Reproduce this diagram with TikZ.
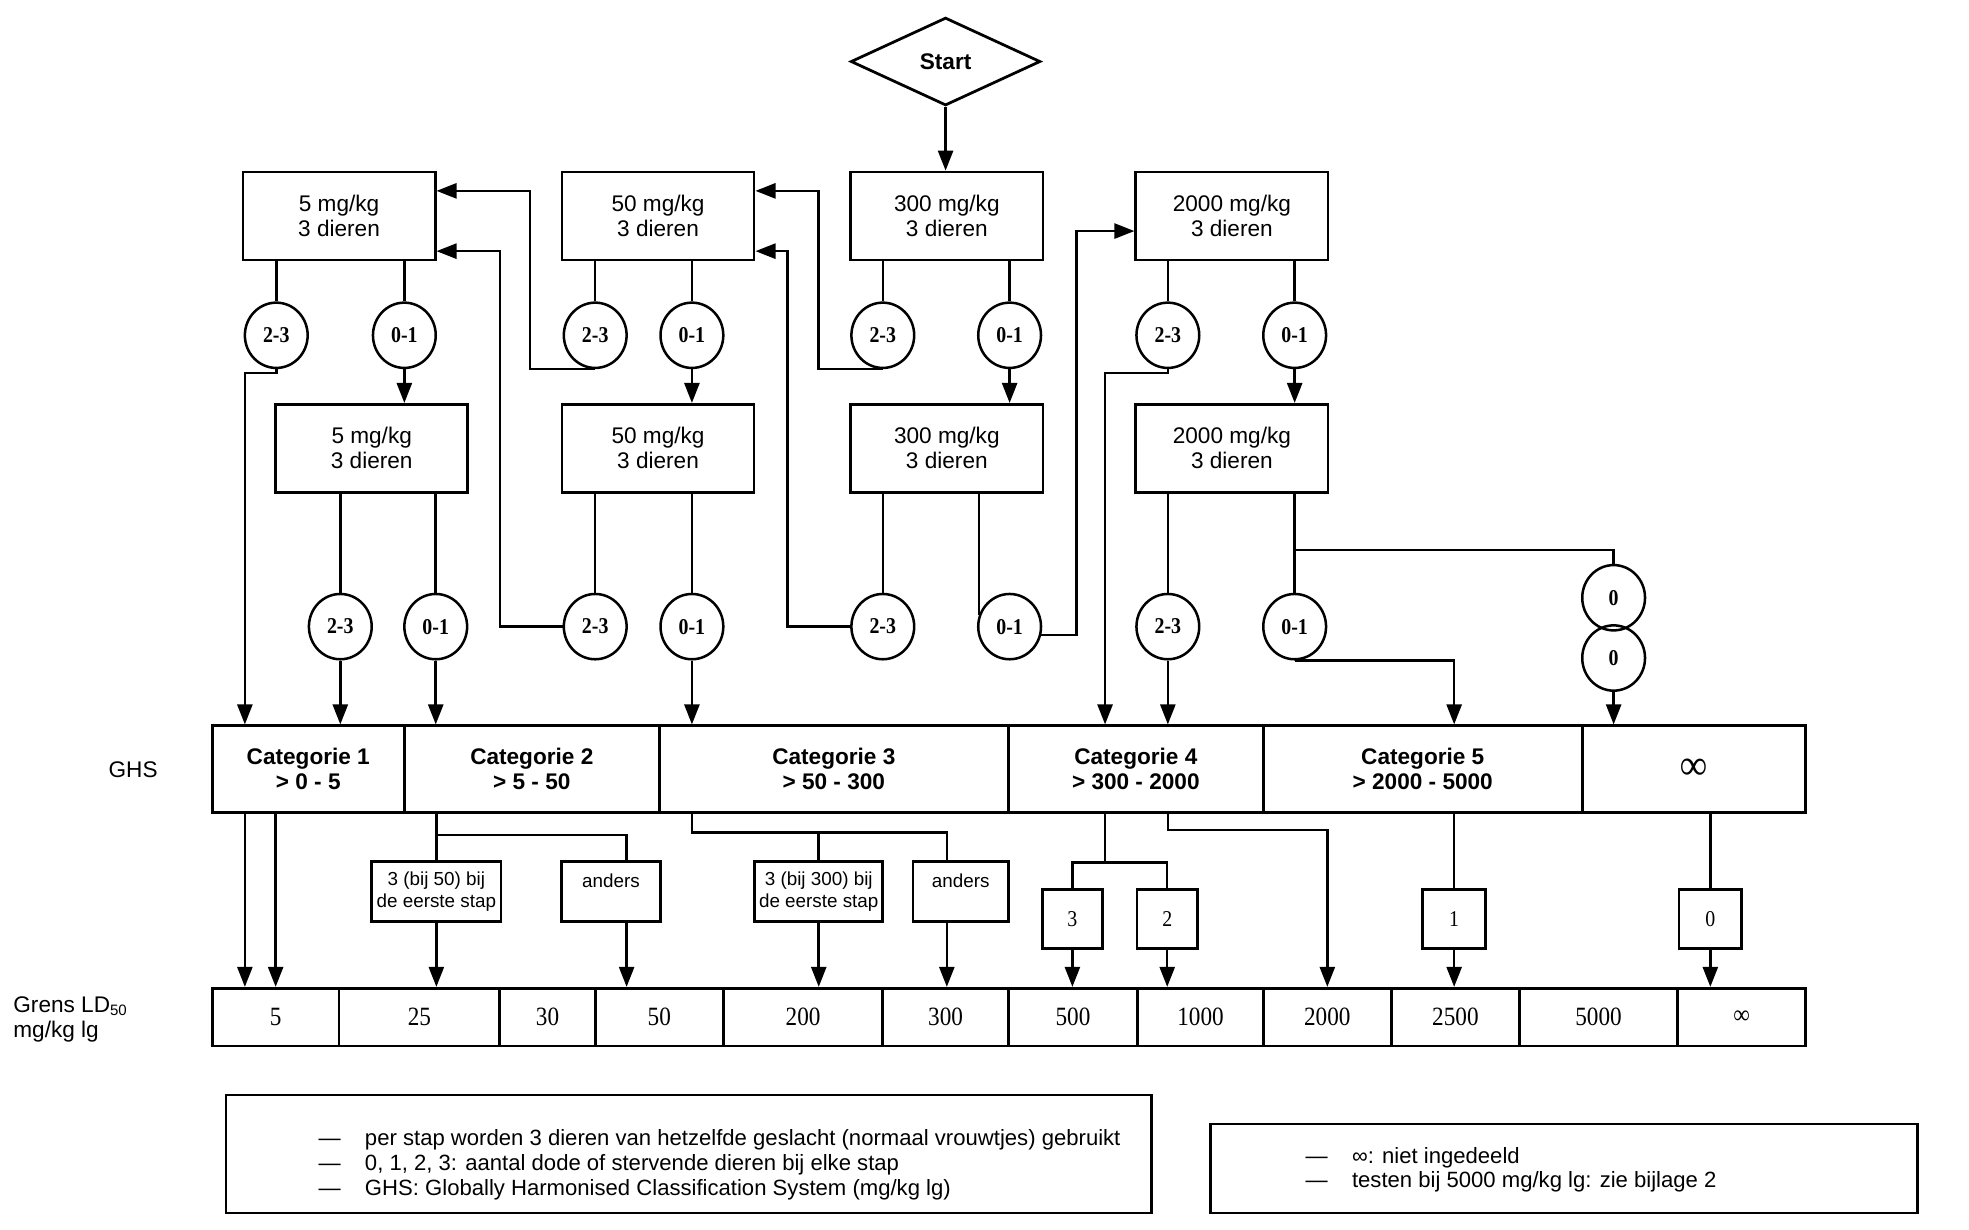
\documentclass[tikz,border=0pt]{standalone}
\usepackage{fontspec}
\setmainfont{Liberation Sans}
\newfontfamily\numfont{Liberation Serif}[FakeStretch=0.88]
\usetikzlibrary{shapes.geometric,arrows.meta}
\newcommand{\legdash}{\makebox[18.5pt][l]{—}}

\begin{document}
\begin{tikzpicture}[
  x=0.5pt,
  y=-0.5pt,
  line width=1pt,
  every node/.style={font=\fontsize{9}{10}\selectfont},
  arr/.style={-{Triangle[length=8pt,width=6pt]}},
  startnode/.style={draw, diamond, line width=1.1pt, minimum width=75.5pt, minimum height=35pt, inner sep=0pt, font=\bfseries\fontsize{9}{10}\selectfont},
  dosebox/.style={draw, line width=1.1pt, minimum width=76.5pt, minimum height=35pt, align=center},
  score/.style={draw, ellipse, minimum width=25pt, minimum height=26pt, inner sep=0pt, font=\numfont\bfseries\fontsize{9}{10}\selectfont},
  ghscell/.style={draw, line width=1.1pt, minimum height=34.5pt, inner sep=0pt, align=center, font=\bfseries\fontsize{9}{10}\selectfont},
  ldcell/.style={draw, line width=1.1pt, minimum height=23pt, inner sep=0pt, font=\numfont\fontsize{10.5}{11}\selectfont},
  subbox/.style={draw, line width=1.1pt, minimum height=24pt, inner sep=1pt, align=center, font=\fontsize{7.5}{9}\selectfont},
  numbox/.style={draw, line width=1.1pt, minimum width=24pt, minimum height=23.5pt, inner sep=0pt, font=\numfont\fontsize{9}{10}\selectfont}
]
  \useasboundingbox (0,0) rectangle (1568,979);

  % Start and dose boxes.
  \node[startnode] (start) at (753,49) {Start};
  \foreach \name/\x/\y/\dose in {a1/270/172/5, b1/524/172/50, c1/754/172/300, d1/981/172/2000,
                                 a2/296/357/5, b2/524/357/50, c2/754/357/300, d2/981/357/2000}
    \node[dosebox] (\name) at (\x,\y) {\dose\ mg/kg\\3 dieren};

  % Outcome circles (b = 2-3 dead, g = 0-1 dead).
  \foreach \name/\x/\y/\txt in {a1b/220/267/2-3, a1g/322/267/0-1, b1b/474/267/2-3, b1g/551/267/0-1,
                                c1b/703/267/2-3, c1g/804/267/0-1, d1b/930/267/2-3, d1g/1031/267/0-1,
                                a2b/271/499/2-3, a2g/347/499/0-1, b2b/474/499/2-3, b2g/551/499/0-1,
                                c2b/703/499/2-3, c2g/804/499/0-1, d2b/930/499/2-3, d2g/1031/499/0-1,
                                z1/1285/476/0, z2/1285/524/0}
    \node[score] (\name) at (\x,\y) {\txt};

  % GHS categories.
  \foreach \name/\l/\r/\txt in {cat1/169/322/{Categorie 1\\> 0 - 5}, cat2/322/525/{Categorie 2\\> 5 - 50},
                                cat3/525/803/{Categorie 3\\> 50 - 300}, cat4/803/1006/{Categorie 4\\> 300 - 2000},
                                cat5/1006/1260/{Categorie 5\\> 2000 - 5000},
                                catinf/1260/1438/{\numfont\fontsize{17}{17}\selectfont ∞}} {
    \pgfmathsetmacro{\w}{(\r-\l)/2}
    \node[ghscell, minimum width=\w pt] (\name) at ({(\l+\r)/2},612.5) {\txt};
  }

  % LD50 cut-off values.
  \foreach \name/\l/\r/\txt in {ld5/169/270/5, ld25/270/398/25, ld30/398/474/30, ld50/474/576/50,
                                ld200/576/703/200, ld300/703/803/300, ld500/803/906/500,
                                ld1000/906/1006/1000, ld2000/1006/1108/2000, ld2500/1108/1210/2500,
                                ld5000/1210/1336/5000, ldinf/1336/1438/∞} {
    \pgfmathsetmacro{\w}{(\r-\l)/2}
    \node[ldcell, minimum width=\w pt] (\name) at ({(\l+\r)/2},810) {\txt};
  }

  % Boxes between the rows.
  \node[subbox, minimum width=51.5pt] (r50) at (347.5,710) {3 (bij 50) bij\\de eerste stap};
  \node[subbox, minimum width=39.5pt] (a50) at (486.5,710) {anders\\~};
  \node[subbox, minimum width=51pt] (r300) at (652,710) {3 (bij 300) bij\\de eerste stap};
  \node[subbox, minimum width=38pt] (a300) at (765,710) {anders\\~};
  \node[numbox] (n3) at (854,732) {3};
  \node[numbox] (n2) at (929.5,732) {2};
  \node[numbox, minimum width=25pt] (n1) at (1158,732) {1};
  \node[numbox, minimum width=25pt] (n0) at (1362,732) {0};

  % Row labels.
  \node (ghslabel) at (106,613) {GHS};
  \node[anchor=west, align=left] (ldlabel) at (3,812) {Grens LD\textsubscript{50}\\mg/kg lg};

  % Flow between dose steps.
  \draw[arr] (start.south) -- (start.south |- c1.north);
  \foreach \b/\c in {a1/a1b, a1/a1g, b1/b1b, b1/b1g, c1/c1b, c1/c1g, d1/d1b, d1/d1g,
                     a2/a2b, a2/a2g, b2/b2b, b2/b2g, c2/c2b, d2/d2b, d2/d2g}
    \draw (\c.north |- \b.south) -- (\c.north);
  \draw (c2g.160 |- c2.south) -- (c2g.160);
  \foreach \c/\b in {a1g/a2, b1g/b2, c1g/c2, d1g/d2}
    \draw[arr] (\c.south) -- (\c.south |- \b.north);

  \draw[arr] (b1b.south) -- ++(-52,0) |- ([yshift=10pt]a1.east);
  \draw[arr] (c1b.south) -- ++(-51,0) |- ([yshift=10pt]b1.east);
  \draw[arr] (b2b.west) -- ++(-50,0) |- ([yshift=-14pt]a1.east);
  \draw[arr] (c2b.west) -- ++(-50,0) |- ([yshift=-14pt]b1.east);
  \draw[arr] (c2g.-15) -- ++(28,0) |- ([yshift=-6pt]d1.west);

  % Flow into the categories.
  \coordinate (lane1) at (195,297);
  \coordinate (lane4) at (880,297);
  \coordinate (br5) at (1031,438);
  \draw[arr] (a1b.south) -- (a1b.south |- lane1) -- (lane1) -- (lane1 |- cat1.north);
  \draw[arr] (d1b.south) -- (d1b.south |- lane4) -- (lane4) -- (lane4 |- cat4.north);
  \foreach \c/\k in {a2b/cat1, a2g/cat2, b2g/cat3, d2b/cat4}
    \draw[arr] (\c.south) -- (\c.south |- \k.north);
  \draw[arr] (d2g.south) -| (n1.north |- cat5.north);
  \draw (br5) -| (z1.north);
  \draw[arr] (z2.south) -- (z2.south |- catinf.north);

  % Categories to LD50 values.
  \coordinate (br2) at (347,665);
  \coordinate (br3) at (551,663);
  \coordinate (br4) at (880,687);
  \draw[arr] (lane1 |- cat1.south) -- (lane1 |- ld5.north);
  \draw[arr] (ld5.north |- cat1.south) -- (ld5.north);

  \draw (r50.north |- cat2.south) -- (r50.north);
  \draw (r50.north |- br2) -| ([xshift=6.25pt]a50.north);
  \draw[arr] (r50.south) -- (r50.south |- ld25.north);
  \draw[arr] ([xshift=6.25pt]a50.south) -- ([xshift=6.25pt]a50.south |- ld50.north);

  \draw (br3 |- cat3.south) -- (br3) -| ([xshift=-5.5pt]a300.north);
  \draw (r300.north |- br3) -- (r300.north);
  \draw[arr] (r300.south) -- (r300.south |- ld200.north);
  \draw[arr] ([xshift=-5.5pt]a300.south) -- ([xshift=-5.5pt]a300.south |- ld300.north);

  \draw (lane4 |- cat4.south) -- (br4);
  \draw (n3.north) |- (br4) -| (n2.north);
  \draw[arr] (d2b |- cat4.south) -- ++(0,13) -| (ld2000.north);
  \draw[arr] (n3.south) -- (n3.south |- ld500.north);
  \draw[arr] (n2.south) -- (n2.south |- ld1000.north);

  \draw (n1.north |- cat5.south) -- (n1.north);
  \draw[arr] (n1.south) -- (n1.south |- ld2500.north);
  \draw (n0.north |- catinf.south) -- (n0.north);
  \draw[arr] (n0.south) -- (n0.south |- ldinf.north);

  % Notes.
  \node[draw, line width=1.1pt, minimum width=368.5pt, minimum height=47pt] (legleft) at (548.5,919) {};
  \node[anchor=west, align=left, font=\fontsize{8.8}{9.8}\selectfont] (legleftnotes) at (246,927.5)
    {\legdash per stap worden 3 dieren van hetzelfde geslacht (normaal vrouwtjes) gebruikt\\
     \legdash 0, 1, 2, 3: aantal dode of stervende dieren bij elke stap\\
     \legdash GHS: Globally Harmonised Classification System (mg/kg lg)};
  \node[draw, line width=1.1pt, minimum width=281.5pt, minimum height=35.5pt] (legright) at (1245.5,930.5) {};
  \node[anchor=west, align=left, font=\fontsize{8.8}{9.8}\selectfont] (legrightnotes) at (1032,931.5)
    {\legdash ∞: niet ingedeeld\\
     \legdash testen bij 5000 mg/kg lg: zie bijlage 2};
\end{tikzpicture}
\end{document}
